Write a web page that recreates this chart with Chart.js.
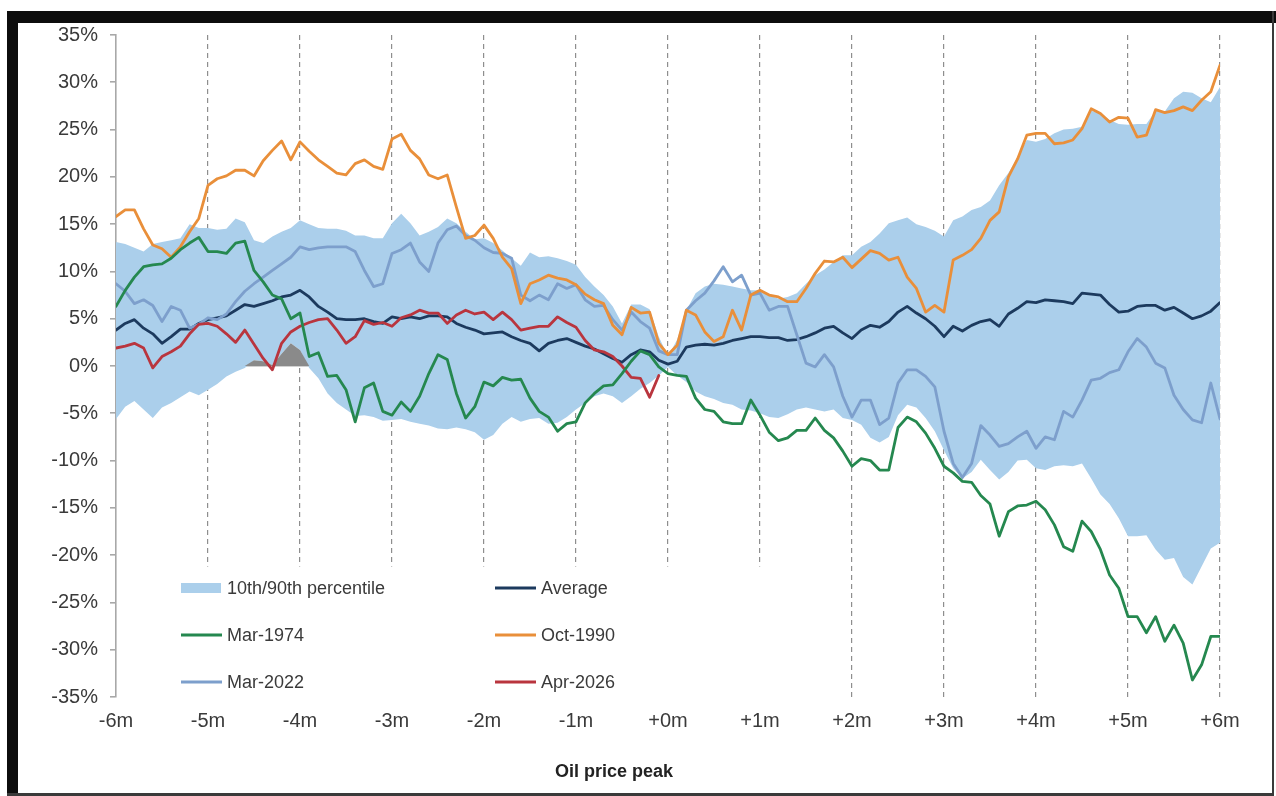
<!DOCTYPE html>
<html>
<head>
<meta charset="utf-8">
<script src="https://cdn.jsdelivr.net/npm/chart.js@4.4.1/dist/chart.umd.min.js"></script>
<style>
  html, body { margin: 0; padding: 0; background: #ffffff; }
  #wrap { position: absolute; left: 0; top: 0; width: 1276px; height: 796px; }
  .bar { position: absolute; background: #0d0d0d; z-index: 5; }
</style>
</head>
<body>
<div id="wrap"><canvas id="c" width="1276" height="796"></canvas></div>
<div class="bar" style="left:7px;top:11px;width:1269px;height:12px"></div>
<div class="bar" style="left:7px;top:11px;width:11px;height:785px"></div>
<div class="bar" style="left:1272px;top:11px;width:2px;height:785px;background:#3a3a3a"></div>
<div class="bar" style="left:7px;top:793px;width:1267px;height:3px;background:#3a3a3a"></div>
<script>
// ---- x sample positions (months from the oil price peak) ----
const months = Array.from({ length: 121 }, (_, i) => Math.round((i / 10 - 6) * 10) / 10);
const monthTicks = ['-6m','-5m','-4m','-3m','-2m','-1m','+0m','+1m','+2m','+3m','+4m','+5m','+6m'];
const yTicks = [-35,-30,-25,-20,-15,-10,-5,0,5,10,15,20,25,30,35];
const axisTitle = 'Oil price peak';

// ---- 10th / 90th percentile band (%) ----
const pct90 = [
  13.1,12.9,12.5,12.1,12.9,13.1,13.3,13.5,15.0,14.6,
  14.6,14.4,14.5,15.6,15.2,13.3,13.0,13.7,14.2,14.6,
  15.4,15.0,14.6,14.5,14.5,14.3,13.8,13.8,13.5,13.5,
  15.1,16.1,15.1,13.8,14.2,14.7,15.6,15.1,14.2,13.4,
  13.5,13.0,12.2,11.4,10.6,12.0,11.5,11.6,11.4,11.1,
  10.7,9.4,8.4,7.5,6.3,4.5,6.5,6.5,6.0,3.1,
  1.0,2.8,5.9,7.7,8.4,8.7,8.6,8.4,8.2,8.0,
  8.0,7.5,7.1,7.3,7.7,8.7,9.6,10.2,11.0,11.7,
  11.7,12.6,13.1,14.0,15.1,15.4,15.7,15.0,14.7,14.3,
  13.7,15.4,15.8,16.5,16.8,17.5,19.1,20.4,22.1,23.9,
  23.7,24.0,24.6,25.0,25.1,25.3,27.0,26.7,26.0,25.6,
  25.5,25.6,25.6,27.0,26.9,28.3,29.0,28.9,28.3,27.9,
  29.5
];
const pct10 = [
  -5.6,-4.3,-3.7,-4.6,-5.5,-4.4,-3.9,-3.3,-2.7,-3.1,
  -2.5,-1.9,-1.1,-0.6,-0.2,0.6,0.5,0.1,1.3,2.4,
  1.7,-0.2,-1.3,-2.9,-3.9,-4.6,-5.3,-5.2,-5.4,-5.8,
  -5.7,-5.6,-5.9,-6.1,-6.3,-6.6,-6.7,-6.5,-6.7,-7.0,
  -7.8,-7.3,-6.1,-5.4,-5.9,-5.6,-5.5,-6.1,-6.0,-5.4,
  -4.6,-3.9,-3.2,-2.9,-3.2,-3.9,-3.2,-2.4,-1.8,-1.0,
  -0.1,-1.0,-1.7,-2.7,-3.2,-3.5,-3.9,-4.1,-4.6,-4.7,
  -5.0,-5.4,-5.5,-5.1,-4.6,-4.4,-4.6,-4.8,-4.6,-5.5,
  -5.7,-6.2,-7.6,-8.1,-7.5,-5.2,-4.1,-4.4,-5.5,-6.9,
  -8.9,-10.8,-11.9,-11.2,-9.9,-11.0,-12.0,-11.2,-10.0,-9.9,
  -10.8,-11.0,-10.6,-10.5,-10.6,-10.3,-11.9,-13.6,-14.6,-16.1,
  -18.0,-18.0,-17.9,-19.4,-20.5,-20.3,-22.3,-23.1,-21.2,-19.3,
  -18.7
];

// ---- episodes (%) ----
const average = [
  3.8,4.5,4.9,4.0,3.4,2.4,3.1,3.9,3.9,4.5,
  4.9,5.1,5.3,5.9,6.5,6.3,6.6,6.9,7.3,7.5,
  8.0,7.3,6.3,5.7,5.0,4.9,4.9,5.0,4.7,4.5,
  5.2,5.0,5.2,5.0,5.3,5.3,5.2,4.5,4.1,3.8,
  3.4,3.5,3.6,3.1,2.7,2.4,1.6,2.4,2.7,2.9,
  2.5,2.1,1.8,1.3,0.8,0.4,1.2,1.7,1.5,0.6,
  0.2,0.5,2.0,2.2,2.3,2.2,2.4,2.7,2.9,3.1,
  3.1,3.0,3.0,2.7,2.8,3.1,3.5,4.0,4.2,3.5,
  2.9,3.8,4.3,4.1,4.7,5.7,6.3,5.6,5.0,4.2,
  3.1,4.2,3.7,4.3,4.7,4.9,4.2,5.5,6.1,6.8,
  6.7,7.0,6.9,6.8,6.6,7.7,7.6,7.5,6.5,5.7,
  5.8,6.3,6.4,6.4,5.9,6.2,5.6,5.0,5.3,5.8,
  6.7
];
const mar1974 = [
  6.3,8.0,9.4,10.5,10.7,10.8,11.4,12.3,13.0,13.6,
  12.1,12.1,11.9,13.0,13.2,10.1,8.9,7.5,7.1,5.0,
  5.6,1.0,1.4,-1.1,-1.0,-2.5,-5.9,-2.3,-1.8,-4.8,
  -5.2,-3.8,-4.8,-3.2,-0.8,1.2,0.7,-2.9,-5.5,-4.3,
  -1.7,-2.1,-1.2,-1.5,-1.4,-3.4,-4.8,-5.4,-6.9,-6.1,
  -5.9,-3.9,-2.9,-2.1,-2.0,-0.8,0.5,1.6,1.2,-0.1,
  -0.8,-1.0,-1.1,-3.4,-4.6,-4.8,-5.9,-6.1,-6.1,-3.6,
  -5.2,-7.0,-7.9,-7.6,-6.8,-6.8,-5.5,-6.8,-7.6,-9.0,
  -10.6,-9.8,-10.0,-11.0,-11.0,-6.5,-5.4,-5.9,-7.1,-8.7,
  -10.6,-11.3,-12.2,-12.3,-13.7,-14.6,-18.0,-15.4,-14.8,-14.7,
  -14.3,-15.2,-16.8,-19.1,-19.6,-16.4,-17.5,-19.4,-22.1,-23.5,
  -26.5,-26.5,-28.2,-26.5,-29.1,-27.4,-29.3,-33.2,-31.6,-28.6,
  -28.6
];
const oct1990 = [
  15.8,16.5,16.5,14.5,12.8,12.4,11.5,12.6,14.2,15.6,
  19.1,19.8,20.1,20.7,20.7,20.1,21.7,22.8,23.8,21.8,
  23.7,22.7,21.8,21.1,20.4,20.2,21.4,21.8,21.1,20.8,
  24.0,24.5,22.8,21.9,20.2,19.8,20.2,16.8,13.5,13.8,
  14.9,13.5,11.5,10.3,6.6,8.7,9.1,9.6,9.3,9.1,
  8.6,7.6,7.0,6.6,4.3,3.3,6.2,5.6,5.7,2.4,
  1.2,2.2,5.9,5.4,3.6,2.6,3.1,5.9,3.8,7.5,
  8.0,7.5,7.3,6.8,6.8,8.2,9.8,11.1,11.0,11.5,
  10.4,11.3,12.2,11.9,11.2,11.5,9.4,8.2,5.7,6.4,
  5.7,11.2,11.7,12.3,13.5,15.4,16.3,20.0,21.9,24.4,
  24.6,24.6,23.5,23.6,23.9,25.1,27.2,26.7,25.8,26.3,
  26.2,24.2,24.4,27.1,26.8,27.0,27.4,27.0,28.1,29.0,
  31.8
];
const mar2022 = [
  8.7,7.9,6.6,7.0,6.4,4.7,6.3,5.9,4.0,4.4,
  5.1,4.9,5.5,6.8,7.9,8.7,9.4,10.1,10.8,11.5,
  12.6,12.3,12.5,12.6,12.6,12.6,12.1,10.1,8.4,8.7,
  11.9,12.3,13.0,11.0,10.0,13.0,14.4,14.8,13.8,13.3,
  12.5,12.0,11.9,11.4,7.5,6.9,7.5,7.0,8.7,8.2,
  8.6,7.0,6.3,6.4,4.9,3.8,5.7,4.7,4.0,1.6,
  1.2,1.2,5.9,6.9,7.7,9.0,10.5,8.9,9.6,7.5,
  7.7,5.9,6.3,6.3,3.3,0.3,-0.1,1.2,-0.1,-3.2,
  -5.4,-3.6,-3.6,-6.2,-5.5,-1.8,-0.4,-0.4,-1.1,-2.2,
  -6.9,-10.3,-11.8,-10.3,-6.3,-7.3,-8.5,-8.2,-7.5,-6.9,
  -8.7,-7.5,-7.8,-4.8,-5.4,-3.6,-1.5,-1.3,-0.7,-0.4,
  1.5,2.9,2.0,0.3,-0.2,-3.1,-4.6,-5.7,-6.0,-1.8,
  -5.6
];
const apr2026 = [
  1.9,2.1,2.4,1.9,-0.2,1.0,1.5,2.1,3.4,4.4,
  4.5,4.2,3.4,2.5,3.8,2.3,0.8,-0.4,2.4,3.6,
  4.2,4.6,4.9,5.0,3.8,2.4,3.1,4.8,4.4,4.6,
  4.2,5.1,5.4,5.9,5.6,5.6,4.5,5.4,5.9,5.5,
  5.7,4.9,5.7,4.9,3.8,4.0,4.2,4.2,5.2,4.6,
  4.1,2.7,1.7,1.5,1.0,0.0,-1.2,-1.3,-3.3,-1.0
];

// grey part of the band's base where the 10th percentile sits above zero
const pct10AboveZero = pct10.map(v => (v > 0 ? v : 0));

const COLORS = {
  band: '#abcfeb',
  grey: '#8a8a8a',
  average: '#1c3a5e',
  mar1974: '#25884f',
  oct1990: '#e98f3a',
  mar2022: '#7d9fcc',
  apr2026: '#b9353e'
};
const FONT = 'Liberation Sans, Arial, sans-serif';
const TEXT = '#3a3a3a';

function line(label, data, color, order) {
  return {
    label, data, borderColor: color, backgroundColor: color,
    borderWidth: 2.8, pointRadius: 0, tension: 0, fill: false,
    borderJoinStyle: 'round', borderCapStyle: 'round',
    order, spanGaps: false
  };
}

const datasets = [
  { label: '10th/90th percentile', data: pct90, borderWidth: 0, borderColor: 'rgba(0,0,0,0)',
    backgroundColor: COLORS.band, pointRadius: 0, fill: '+1', order: 20, legendKind: 'box' },
  { label: '_p10', data: pct10, borderWidth: 0, borderColor: 'rgba(0,0,0,0)',
    backgroundColor: 'rgba(0,0,0,0)', pointRadius: 0, fill: false, order: 19 },
  { label: '_grey', data: pct10AboveZero, borderWidth: 0, borderColor: 'rgba(0,0,0,0)',
    backgroundColor: COLORS.grey, pointRadius: 0, fill: 'origin', order: 18 },
  line('Average', average, COLORS.average, 6),
  line('Mar-1974', mar1974, COLORS.mar1974, 2),
  line('Oct-1990', oct1990, COLORS.oct1990, 3),
  line('Mar-2022', mar2022, COLORS.mar2022, 5),
  line('Apr-2026', apr2026, COLORS.apr2026, 4)
];

// legend layout (inside the plot, on a white box) + axis title
const legendOrder = ['10th/90th percentile','Average','Mar-1974','Oct-1990','Mar-2022','Apr-2026'];
const boxLegend = {
  id: 'boxLegend',
  afterDatasetsDraw(chart) {
    const { ctx } = chart;
    const xs = chart.scales.x, ys = chart.scales.y;
    ctx.save();
    const boxL = xs.getPixelForValue(-5.55), boxR = xs.getPixelForValue(1.4);
    const boxT = ys.getPixelForValue(-21.2), boxB = ys.getPixelForValue(-35);
    ctx.fillStyle = '#ffffff';
    ctx.fillRect(boxL, boxT, boxR - boxL, boxB - boxT + 1);
    const colX = [181, 495];
    const rowY = [588, 635, 682];
    ctx.font = '18px ' + FONT;
    ctx.textBaseline = 'middle';
    ctx.textAlign = 'left';
    legendOrder.forEach((name, k) => {
      const ds = chart.data.datasets.find(d => d.label === name);
      const x = colX[k % 2], y = rowY[Math.floor(k / 2)];
      if (ds.legendKind === 'box') {
        ctx.fillStyle = ds.backgroundColor;
        ctx.fillRect(x, y - 5, 40, 10);
      } else {
        ctx.strokeStyle = ds.borderColor;
        ctx.lineWidth = 3;
        ctx.beginPath();
        ctx.moveTo(x, y);
        ctx.lineTo(x + 41, y);
        ctx.stroke();
      }
      ctx.fillStyle = TEXT;
      ctx.fillText(name, x + 46, y + 1);
    });
    ctx.restore();
  },
  afterDraw(chart) {
    const { ctx } = chart;
    ctx.save();
    ctx.font = 'bold 18px ' + FONT;
    ctx.fillStyle = '#222222';
    ctx.textAlign = 'center';
    ctx.textBaseline = 'middle';
    ctx.fillText(axisTitle, 614, 772);
    ctx.restore();
  }
};

new Chart(document.getElementById('c'), {
  type: 'line',
  data: { labels: months, datasets },
  plugins: [boxLegend],
  options: {
    responsive: false,
    animation: false,
    devicePixelRatio: 1,
    layout: { padding: { left: 0, top: 35, right: 56, bottom: 14 } },
    plugins: { legend: { display: false }, tooltip: { enabled: false }, filler: { propagate: false } },
    scales: {
      x: {
        type: 'linear', min: -6, max: 6,
        afterFit(s) { s.height = 85; },
        ticks: {
          stepSize: 1, autoSkip: false, maxRotation: 0, padding: 12,
          color: TEXT, font: { family: FONT, size: 20 },
          callback: v => monthTicks[Math.round(v + 6)]
        },
        grid: {
          drawTicks: false, lineWidth: 1.2,
          color: c => (c.tick && c.tick.value === -6 ? 'rgba(0,0,0,0)' : '#8e8e8e')
        },
        border: { display: false, dash: [5, 4] },
        title: { display: false }
      },
      y: {
        min: -35, max: 35,
        afterFit(s) { s.width = 116; },
        afterBuildTicks(s) { s.ticks = yTicks.map(v => ({ value: v })); },
        ticks: {
          color: TEXT, font: { family: FONT, size: 20 }, padding: 12,
          callback: v => v + '%'
        },
        grid: {
          drawTicks: true, tickLength: 6, tickColor: '#a8a8a8', lineWidth: 1.6,
          color: c => (c.tick && c.tick.value === 0 ? '#a4a4a4' : 'rgba(0,0,0,0)')
        },
        border: { display: true, color: '#a8a8a8', width: 1.6 }
      }
    }
  }
});
</script>
</body>
</html>
